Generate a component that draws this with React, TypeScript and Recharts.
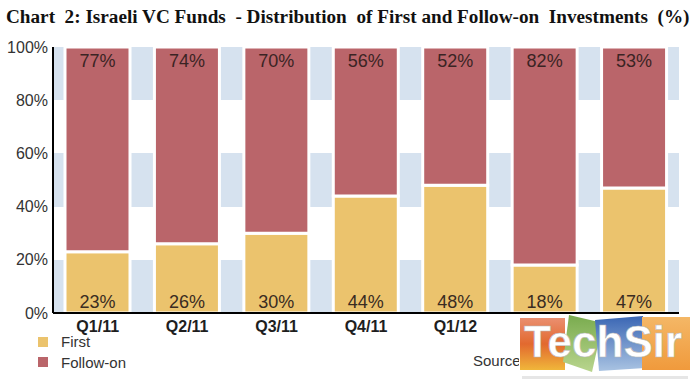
import { Bar, BarChart, CartesianGrid, LabelList, XAxis, YAxis } from "recharts";

const QUARTERS = ["Q1/11", "Q2/11", "Q3/11", "Q4/11", "Q1/12", "Q2/12", "Q3/12"];
const FIRST = [23, 26, 30, 44, 48, 18, 47];
const FOLLOW_ON = [77, 74, 70, 56, 52, 82, 53];
const Y_TICKS = [0, 20, 40, 60, 80, 100];

const TITLE =
  "Chart  2: Israeli VC Funds  - Distribution  of First and Follow-on  Investments  (%)";

const RED = "#ba656a";
const YELLOW = "#ebc36d";
const BAND = "#d6e2ef";
const SANS = "'Liberation Sans', Arial, sans-serif";

const data = QUARTERS.map((q, i) => ({ quarter: q, first: FIRST[i], followOn: FOLLOW_ON[i] }));

type LabelProps = {
  x?: number | string;
  y?: number | string;
  width?: number | string;
  height?: number | string;
  value?: number | string;
};

// value printed just above the bottom of the segment
function BottomLabel({ x, y, width, height, value }: LabelProps) {
  const cx = Number(x) + Number(width) / 2;
  const by = Number(y) + Number(height) - 5;
  return (
    <text x={cx} y={by} textAnchor="middle" fontSize={18} fill="#3a2c22" fontFamily={SANS}>
      {value}%
    </text>
  );
}

// value printed just under the top of the segment
function TopLabel({ x, y, width, value }: LabelProps) {
  const cx = Number(x) + Number(width) / 2;
  const ty = Number(y) + 20;
  return (
    <text x={cx} y={ty} textAnchor="middle" fontSize={18} fill="#3a2424" fontFamily={SANS}>
      {value}%
    </text>
  );
}

function Watermark() {
  return (
    <svg
      width={172}
      height={70}
      style={{ position: "absolute", left: 519, top: 314 }}
    >
      <defs>
        <linearGradient id="wmA" x1="0" y1="0" x2="0" y2="1">
          <stop offset="0" stopColor="#ea8f70" />
          <stop offset="0.5" stopColor="#e2692f" />
          <stop offset="1" stopColor="#f0b63a" />
        </linearGradient>
        <linearGradient id="wmB" x1="0" y1="0" x2="0" y2="1">
          <stop offset="0" stopColor="#79ab4e" />
          <stop offset="1" stopColor="#b9d58e" />
        </linearGradient>
        <linearGradient id="wmC" x1="0" y1="0" x2="0" y2="1">
          <stop offset="0" stopColor="#3a66b4" />
          <stop offset="1" stopColor="#a9c3e2" />
        </linearGradient>
        <linearGradient id="wmD" x1="0" y1="0" x2="0" y2="1">
          <stop offset="0" stopColor="#f4b766" />
          <stop offset="1" stopColor="#f09a3c" />
        </linearGradient>
      </defs>
      <rect x={0} y={0} width={172} height={70} fill="#fff" />
      <rect x={1} y={4} width={45} height={52} fill="url(#wmA)" />
      <polygon points="50,1 84,9 73,58 44,48" fill="url(#wmB)" />
      <polygon points="76,6 124,2 126,54 80,57" fill="url(#wmC)" />
      <rect x={123} y={3} width={48} height={53} fill="url(#wmD)" />
      <text
        x={5}
        y={43}
        fontSize={44}
        fontWeight="bold"
        fill="#fff"
        stroke="#b8b8b8"
        strokeWidth={0.6}
        fontFamily={SANS}
      >
        TechSir
      </text>
      <rect x={3} y={62} width={166} height={3} fill="#e6e6e6" />
    </svg>
  );
}

export default function App() {
  return (
    <div
      style={{
        position: "absolute",
        left: 0,
        top: 0,
        width: 699,
        height: 384,
        background: "#fff",
        fontFamily: SANS,
        overflow: "hidden",
      }}
    >
      <div
        style={{
          position: "absolute",
          left: 6,
          top: 7,
          fontFamily: "'Liberation Serif', 'Times New Roman', serif",
          fontWeight: "bold",
          fontSize: 19.2,
          lineHeight: 1,
          whiteSpace: "pre",
          color: "#111",
        }}
      >
        {TITLE}
      </div>

      <BarChart
        width={699}
        height={384}
        data={data}
        margin={{ top: 47, right: 20, bottom: 41, left: 0 }}
        barSize={65}
      >
        {/* alternating blue / white bands between the 20% ticks */}
        <CartesianGrid vertical={false} stroke="none" horizontalFill={[BAND, "#fff"]} fillOpacity={1} />
        <XAxis
          dataKey="quarter"
          height={30}
          axisLine={{ stroke: "#000", strokeWidth: 2 }}
          tickLine={false}
          tickSize={0}
          tickMargin={8}
          tick={{ fontSize: 16, fontWeight: "bold", fill: "#1e1e1e", fontFamily: SANS }}
          interval={0}
        />
        <YAxis
          domain={[0, 100]}
          ticks={Y_TICKS}
          tickFormatter={(v: number) => `${v}%`}
          width={53}
          axisLine={{ stroke: "#000", strokeWidth: 2 }}
          tickLine={false}
          tickSize={0}
          tickMargin={5}
          tick={{ fontSize: 16, fill: "#333", fontFamily: SANS }}
        />
        <Bar dataKey="first" stackId="a" fill={YELLOW} stroke="#fff" strokeWidth={3} isAnimationActive={false}>
          <LabelList dataKey="first" content={BottomLabel} />
        </Bar>
        <Bar dataKey="followOn" stackId="a" fill={RED} stroke="#fff" strokeWidth={3} isAnimationActive={false}>
          <LabelList dataKey="followOn" content={TopLabel} />
        </Bar>
      </BarChart>

      {/* legend */}
      <div style={{ position: "absolute", left: 38, top: 337, width: 10, height: 10, background: YELLOW }} />
      <div style={{ position: "absolute", left: 61, top: 334, fontSize: 15, lineHeight: 1, color: "#333" }}>
        First
      </div>
      <div style={{ position: "absolute", left: 38, top: 357, width: 10, height: 10, background: RED }} />
      <div style={{ position: "absolute", left: 61, top: 355, fontSize: 15, lineHeight: 1, color: "#333" }}>
        Follow-on
      </div>

      <div style={{ position: "absolute", left: 473, top: 353, fontSize: 15, lineHeight: 1, color: "#333" }}>
        Source
      </div>
      <Watermark />
    </div>
  );
}
